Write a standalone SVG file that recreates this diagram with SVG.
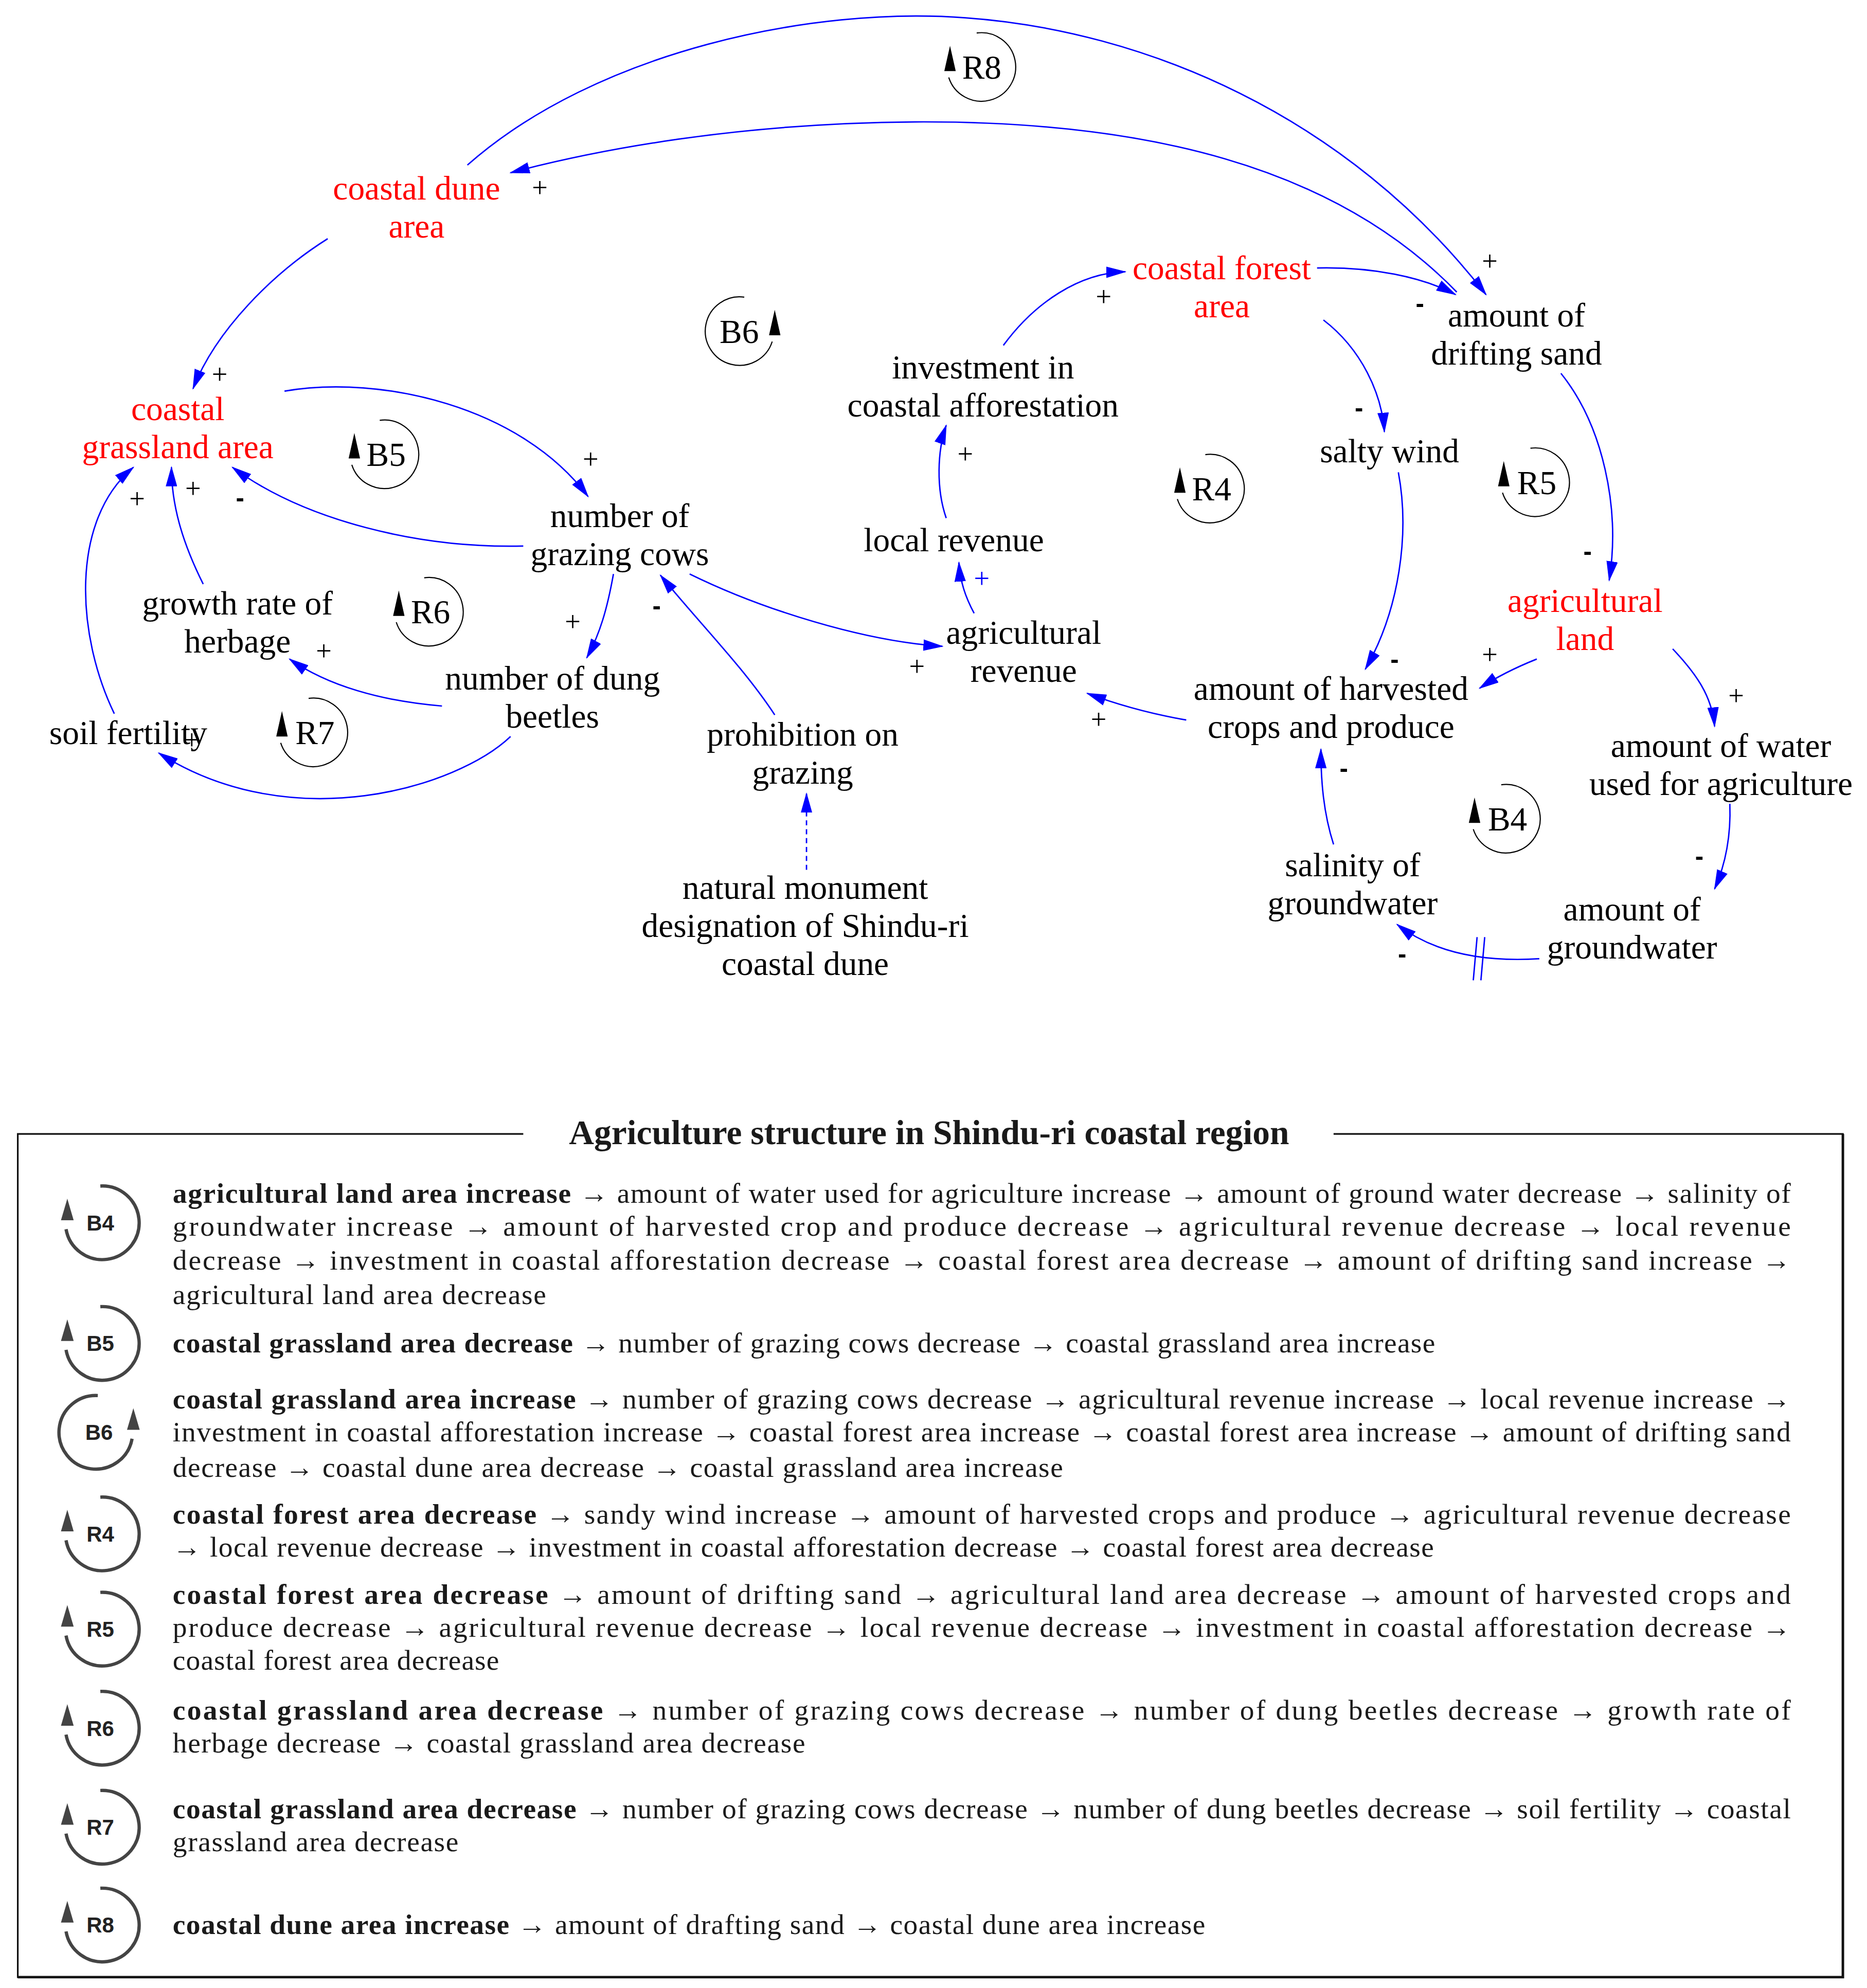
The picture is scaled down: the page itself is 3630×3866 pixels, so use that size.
<svg xmlns="http://www.w3.org/2000/svg" width="3630" height="3866" viewBox="0 0 3630 3866">
<defs>
<marker id="ah" viewBox="0 0 16 9" refX="15" refY="4.5" markerWidth="16" markerHeight="9" markerUnits="userSpaceOnUse" orient="auto">
<path d="M0,0 L16,4.5 L0,9 z" fill="#0000FF"/>
</marker>
<style>
.lk{fill:none;stroke:#0000FF;stroke-width:1.1;marker-end:url(#ah)}
.dash{stroke-dasharray:4,3}
.n{font-family:"Liberation Serif","Times New Roman",serif;font-size:26.5px;text-anchor:middle;fill:#000}
.red{fill:#FF0000}
.sg{font-family:"Liberation Serif",serif;font-size:22px;text-anchor:middle;fill:#000}
.mn{font-family:"Liberation Sans",sans-serif;font-weight:bold;font-size:20px;text-anchor:middle;fill:#000}
.lp{fill:none;stroke:#000;stroke-width:0.9}
.lt{font-family:"Liberation Serif","Times New Roman",serif;font-size:26.5px;text-anchor:middle;fill:#000}
.li{fill:none;stroke:#444;stroke-width:2.6}
.lil{font-family:"Liberation Sans",Arial,sans-serif;font-weight:bold;font-size:17px;text-anchor:middle;fill:#222}
.lg{font-family:"Liberation Serif","Times New Roman",serif;font-size:22.5px;fill:#1a1a1a}
.b{font-weight:bold}
.ttl{font-family:"Liberation Serif","Times New Roman",serif;font-size:27px;font-weight:bold;fill:#1a1a1a}
</style>
</defs>
<rect x="0" y="0" width="3630" height="3866" fill="#FFFFFF"/>
<g transform="scale(2.4694)">

<g id="connectors">
<path class="lk" d="M368,130 C470,40 640,5 760,14 C900,24 1060,90 1170,232"/>
<path class="lk" d="M1147,230 C1050,130 900,95 720,96 C580,97 470,118 402,136"/>
<path class="lk" d="M258,188 C215,215 170,260 152,306"/>
<path class="lk" d="M224,308 C300,295 410,320 463,391"/>
<path class="lk" d="M412,430 C330,432 240,410 183,368"/>
<path class="lk" d="M160,460 C145,430 135,400 135,368"/>
<path class="lk" d="M90,562 C60,500 55,410 105,368"/>
<path class="lk" d="M483,452 C478,480 472,500 462,518"/>
<path class="lk" d="M348,556 C300,552 258,540 228,519"/>
<path class="lk" d="M402,580 C360,620 230,660 125,593"/>
<path class="lk" d="M543,452 C600,480 680,505 742,509"/>
<path class="lk" d="M610,563 C585,525 550,490 520,453"/>
<path class="lk dash" d="M635,685 L635,625"/>
<path class="lk" d="M767,483 C760,470 756,458 755,443"/>
<path class="lk" d="M745,408 C737,385 738,355 745,335"/>
<path class="lk" d="M790,272 C815,238 850,215 886,214"/>
<path class="lk" d="M1037,211 C1080,210 1120,218 1146,232"/>
<path class="lk" d="M1042,252 C1072,275 1088,310 1090,340"/>
<path class="lk" d="M1101,372 C1110,420 1102,480 1075,527"/>
<path class="lk" d="M1229,294 C1262,335 1276,400 1267,457"/>
<path class="lk" d="M1210,519 C1195,525 1180,532 1165,542"/>
<path class="lk" d="M1317,511 C1335,530 1348,548 1350,572"/>
<path class="lk" d="M1362,633 C1363,660 1358,682 1350,700"/>
<path class="lk" d="M1212,755 C1180,757 1135,755 1100,728"/>
<path class="lk" d="M1050,665 C1042,640 1040,615 1040,590"/>
<path class="lk" d="M934,567 C905,562 880,555 856,546"/>
<path d="M1160,772 L1163,738 M1166,772 L1169,738" stroke="#0000FF" stroke-width="1.1" fill="none"/>
</g>

<g id="signs">
<text class="sg" x="1173" y="213">+</text>
<text class="sg" x="425" y="155">+</text>
<text class="sg" x="173" y="302">+</text>
<text class="sg" x="465" y="369">+</text>
<text class="mn" x="189" y="399">-</text>
<text class="sg" x="152" y="392">+</text>
<text class="sg" x="108" y="400">+</text>
<text class="sg" x="451" y="497">+</text>
<text class="sg" x="255" y="520">+</text>
<text class="sg" x="151" y="590">+</text>
<text class="sg" x="722" y="532">+</text>
<text class="mn" x="517" y="484">-</text>
<text class="sg" x="773" y="463" style="fill:#0000FF">+</text>
<text class="sg" x="760" y="365">+</text>
<text class="sg" x="869" y="241">+</text>
<text class="mn" x="1118" y="246">-</text>
<text class="mn" x="1070" y="328">-</text>
<text class="mn" x="1098" y="526">-</text>
<text class="mn" x="1250" y="441">-</text>
<text class="sg" x="1173" y="523">+</text>
<text class="sg" x="1367" y="555">+</text>
<text class="mn" x="1338" y="681">-</text>
<text class="mn" x="1104" y="758">-</text>
<text class="mn" x="1058" y="612">-</text>
<text class="sg" x="865" y="574">+</text>
</g>

<g id="n-coastal-dune-area"><text class="n red" x="328" y="157">coastal dune</text><text class="n red" x="328" y="187">area</text></g>
<g id="n-coastal-grassland-area"><text class="n red" x="140" y="331">coastal</text><text class="n red" x="140" y="361">grassland area</text></g>
<g id="n-investment"><text class="n" x="774" y="298">investment in</text><text class="n" x="774" y="328">coastal afforestation</text></g>
<g id="n-coastal-forest-area"><text class="n red" x="962" y="220">coastal forest</text><text class="n red" x="962" y="250">area</text></g>
<g id="n-drifting-sand"><text class="n" x="1194" y="257">amount of</text><text class="n" x="1194" y="287">drifting sand</text></g>
<g id="n-salty-wind"><text class="n" x="1094" y="364">salty wind</text></g>
<g id="n-local-revenue"><text class="n" x="751" y="434">local revenue</text></g>
<g id="n-grazing-cows"><text class="n" x="488" y="415">number of</text><text class="n" x="488" y="445">grazing cows</text></g>
<g id="n-growth-rate"><text class="n" x="187" y="484">growth rate of</text><text class="n" x="187" y="514">herbage</text></g>
<g id="n-agri-revenue"><text class="n" x="806" y="507">agricultural</text><text class="n" x="806" y="537">revenue</text></g>
<g id="n-agri-land"><text class="n red" x="1248" y="482">agricultural</text><text class="n red" x="1248" y="512">land</text></g>
<g id="n-harvested"><text class="n" x="1048" y="551">amount of harvested</text><text class="n" x="1048" y="581">crops and produce</text></g>
<g id="n-dung-beetles"><text class="n" x="435" y="543">number of dung</text><text class="n" x="435" y="573">beetles</text></g>
<g id="n-soil-fertility"><text class="n" x="101" y="586">soil fertility</text></g>
<g id="n-prohibition"><text class="n" x="632" y="587">prohibition on</text><text class="n" x="632" y="617">grazing</text></g>
<g id="n-water-used"><text class="n" x="1355" y="596">amount of water</text><text class="n" x="1355" y="626">used for agriculture</text></g>
<g id="n-natural-monument"><text class="n" x="634" y="708">natural monument</text><text class="n" x="634" y="738">designation of Shindu-ri</text><text class="n" x="634" y="768">coastal dune</text></g>
<g id="n-salinity"><text class="n" x="1065" y="690">salinity of</text><text class="n" x="1065" y="720">groundwater</text></g>
<g id="n-groundwater"><text class="n" x="1285" y="725">amount of</text><text class="n" x="1285" y="755">groundwater</text></g>

<g id="loops">
<g id="loop-R8"><path class="lp" d="M769,26 A27,27 0 1 1 747,61"/><path d="M748,36 L752.5,56 L743.5,56 z"/><text class="lt" x="773" y="62">R8</text></g>
<g id="loop-B6"><path class="lp" d="M586,234 A27,27 0 1 0 608,269"/><path d="M610,244 L614.5,264 L605.5,264 z"/><text class="lt" x="582" y="270">B6</text></g>
<g id="loop-B5"><path class="lp" d="M299,331 A27,27 0 1 1 277,366"/><path d="M279,341 L283.5,361 L274.5,361 z"/><text class="lt" x="304" y="367">B5</text></g>
<g id="loop-R6"><path class="lp" d="M334,455 A27,27 0 1 1 312,490"/><path d="M314,465 L318.5,485 L309.5,485 z"/><text class="lt" x="339" y="491">R6</text></g>
<g id="loop-R7"><path class="lp" d="M243,550 A27,27 0 1 1 221,585"/><path d="M222,560 L226.5,580 L217.5,580 z"/><text class="lt" x="248" y="586">R7</text></g>
<g id="loop-R4"><path class="lp" d="M949,358 A27,27 0 1 1 927,393"/><path d="M929,368 L933.5,388 L924.5,388 z"/><text class="lt" x="954" y="394">R4</text></g>
<g id="loop-R5"><path class="lp" d="M1205,353 A27,27 0 1 1 1183,388"/><path d="M1184,363 L1188.5,383 L1179.5,383 z"/><text class="lt" x="1210" y="389">R5</text></g>
<g id="loop-B4"><path class="lp" d="M1182,618 A27,27 0 1 1 1160,653"/><path d="M1161,628 L1165.5,648 L1156.5,648 z"/><text class="lt" x="1187" y="654">B4</text></g>
</g>

<g id="legend">
<path d="M412,893 L14,893 L14,1557 L1451,1557 L1451,893 L1050,893" fill="none" stroke="#111" stroke-width="1.3"/>
<path d="M1451,893 L1451,1557 L14,1557" fill="none" stroke="#111" stroke-width="2"/>
<text class="ttl" x="448" y="901" textLength="567" lengthAdjust="spacingAndGlyphs">Agriculture structure in Shindu-ri coastal region</text>

<g id="legend-B4">
<path class="li" d="M79,934 A29,29 0 1 1 52,968"/><path d="M53,944 L58,961 L48,961 z" fill="#444"/>
<text class="lil" x="79" y="969">B4</text>
<text class="lg" x="136" y="947" textLength="1274" lengthAdjust="spacing"><tspan class="b">agricultural land area increase</tspan> → amount of water used for agriculture increase → amount of ground water decrease → salinity of</text>
<text class="lg" x="136" y="973" textLength="1274" lengthAdjust="spacing">groundwater increase → amount of harvested crop and produce decrease → agricultural revenue decrease → local revenue</text>
<text class="lg" x="136" y="1000" textLength="1274" lengthAdjust="spacing">decrease → investment in coastal afforestation decrease → coastal forest area decrease → amount of drifting sand increase →</text>
<text class="lg" x="136" y="1027" textLength="294" lengthAdjust="spacing">agricultural land area decrease</text>
</g>

<g id="legend-B5">
<path class="li" d="M79,1029 A29,29 0 1 1 52,1063"/><path d="M53,1039 L58,1056 L48,1056 z" fill="#444"/>
<text class="lil" x="79" y="1064">B5</text>
<text class="lg" x="136" y="1065" textLength="994" lengthAdjust="spacing"><tspan class="b">coastal grassland area decrease</tspan> → number of grazing cows decrease → coastal grassland area increase</text>
</g>

<g id="legend-B6">
<path class="li" d="M77,1099 A29,29 0 1 0 104,1133"/><path d="M105,1109 L110,1126 L100,1126 z" fill="#444"/>
<text class="lil" x="78" y="1134">B6</text>
<text class="lg" x="136" y="1109" textLength="1274" lengthAdjust="spacing"><tspan class="b">coastal grassland area increase</tspan> → number of grazing cows decrease → agricultural revenue increase → local revenue increase →</text>
<text class="lg" x="136" y="1135" textLength="1274" lengthAdjust="spacing">investment in coastal afforestation increase → coastal forest area increase → coastal forest area increase → amount of drifting sand</text>
<text class="lg" x="136" y="1163" textLength="701" lengthAdjust="spacing">decrease → coastal dune area decrease → coastal grassland area increase</text>
</g>

<g id="legend-R4">
<path class="li" d="M79,1179 A29,29 0 1 1 52,1213"/><path d="M53,1189 L58,1206 L48,1206 z" fill="#444"/>
<text class="lil" x="79" y="1214">R4</text>
<text class="lg" x="136" y="1200" textLength="1274" lengthAdjust="spacing"><tspan class="b">coastal forest area decrease</tspan> → sandy wind increase → amount of harvested crops and produce → agricultural revenue decrease</text>
<text class="lg" x="136" y="1226" textLength="993" lengthAdjust="spacing">→ local revenue decrease → investment in coastal afforestation decrease → coastal forest area decrease</text>
</g>

<g id="legend-R5">
<path class="li" d="M79,1254 A29,29 0 1 1 52,1288"/><path d="M53,1264 L58,1281 L48,1281 z" fill="#444"/>
<text class="lil" x="79" y="1289">R5</text>
<text class="lg" x="136" y="1263" textLength="1274" lengthAdjust="spacing"><tspan class="b">coastal forest area decrease</tspan> → amount of drifting sand → agricultural land area decrease → amount of harvested crops and</text>
<text class="lg" x="136" y="1289" textLength="1274" lengthAdjust="spacing">produce decrease → agricultural revenue decrease → local revenue decrease → investment in coastal afforestation decrease →</text>
<text class="lg" x="136" y="1315" textLength="257" lengthAdjust="spacing">coastal forest area decrease</text>
</g>

<g id="legend-R6">
<path class="li" d="M79,1332 A29,29 0 1 1 52,1366"/><path d="M53,1342 L58,1359 L48,1359 z" fill="#444"/>
<text class="lil" x="79" y="1367">R6</text>
<text class="lg" x="136" y="1354" textLength="1274" lengthAdjust="spacing"><tspan class="b">coastal grassland area decrease</tspan> → number of grazing cows decrease → number of dung beetles decrease → growth rate of</text>
<text class="lg" x="136" y="1380" textLength="498" lengthAdjust="spacing">herbage decrease → coastal grassland area decrease</text>
</g>

<g id="legend-R7">
<path class="li" d="M79,1410 A29,29 0 1 1 52,1444"/><path d="M53,1420 L58,1437 L48,1437 z" fill="#444"/>
<text class="lil" x="79" y="1445">R7</text>
<text class="lg" x="136" y="1432" textLength="1274" lengthAdjust="spacing"><tspan class="b">coastal grassland area decrease</tspan> → number of grazing cows decrease → number of dung beetles decrease → soil fertility → coastal</text>
<text class="lg" x="136" y="1458" textLength="225" lengthAdjust="spacing">grassland area decrease</text>
</g>

<g id="legend-R8">
<path class="li" d="M79,1487 A29,29 0 1 1 52,1521"/><path d="M53,1497 L58,1514 L48,1514 z" fill="#444"/>
<text class="lil" x="79" y="1522">R8</text>
<text class="lg" x="136" y="1523" textLength="813" lengthAdjust="spacing"><tspan class="b">coastal dune area increase</tspan> → amount of drafting sand → coastal dune area increase</text>
</g>
</g>

</g>
</svg>
